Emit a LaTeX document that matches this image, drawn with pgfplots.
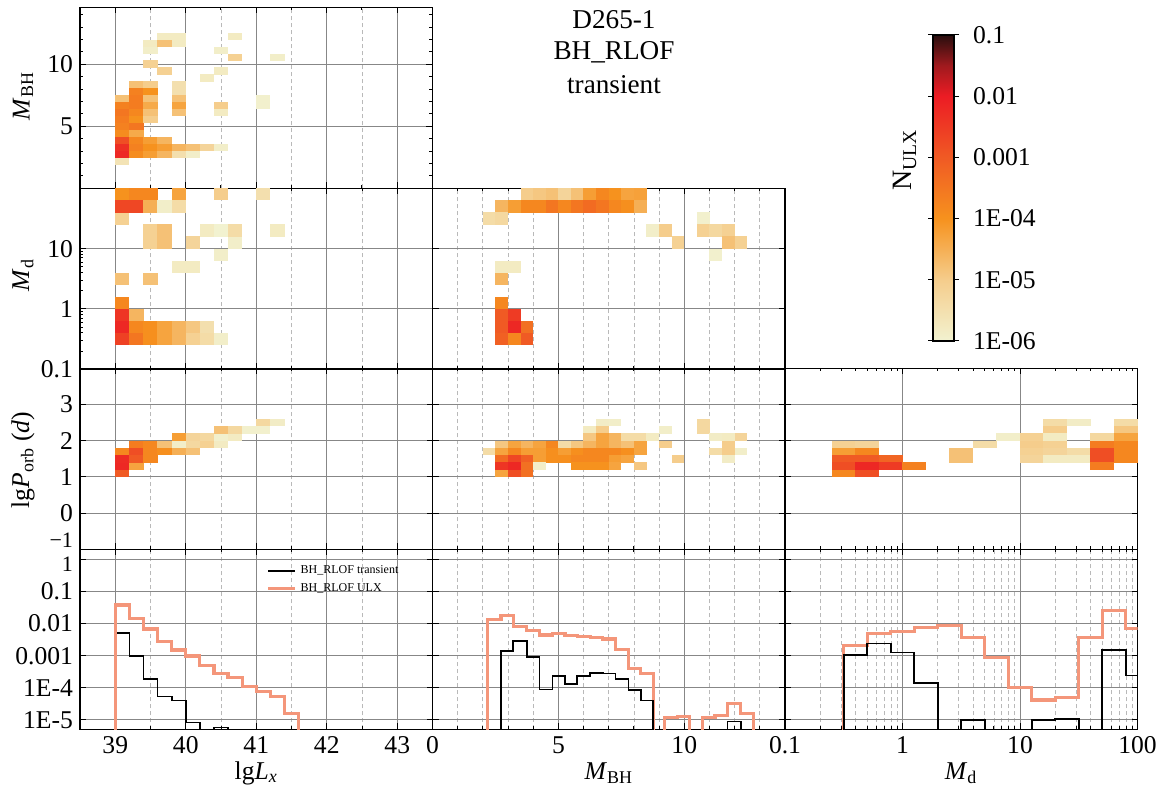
\documentclass[border=0pt]{standalone}
\usepackage{fontspec}
\setmainfont{Liberation Serif}
\usepackage{pgfplots}
\pgfplotsset{compat=1.18}

\definecolor{ulxline}{RGB}{244,150,122}
\definecolor{gridmajor}{RGB}{135,135,135}
\definecolor{gridminor}{RGB}{185,185,185}

\newcommand{\lblfont}{\fontsize{12.8}{14}\selectfont}
\newcommand{\edgelbl}{\fontsize{11}{12}\selectfont}

% filled cells of the 2D histograms (half width, half height of one bin)
\pgfdeclareplotmark{cellLB}{\pgfpathrectanglecorners{\pgfpoint{-3.58pt}{-1.79pt}}{\pgfpoint{3.58pt}{1.79pt}}\pgfusepathqfill}
\pgfdeclareplotmark{cellLD}{\pgfpathrectanglecorners{\pgfpoint{-3.58pt}{-3.07pt}}{\pgfpoint{3.58pt}{3.07pt}}\pgfusepathqfill}
\pgfdeclareplotmark{cellBD}{\pgfpathrectanglecorners{\pgfpoint{-3.2pt}{-3.07pt}}{\pgfpoint{3.2pt}{3.07pt}}\pgfusepathqfill}
\pgfdeclareplotmark{cellLP}{\pgfpathrectanglecorners{\pgfpoint{-3.58pt}{-1.86pt}}{\pgfpoint{3.58pt}{1.86pt}}\pgfusepathqfill}
\pgfdeclareplotmark{cellBP}{\pgfpathrectanglecorners{\pgfpoint{-3.2pt}{-1.86pt}}{\pgfpoint{3.2pt}{1.86pt}}\pgfusepathqfill}
\pgfdeclareplotmark{cellDP}{\pgfpathrectanglecorners{\pgfpoint{-5.93pt}{-1.86pt}}{\pgfpoint{5.93pt}{1.86pt}}\pgfusepathqfill}

\pgfplotsset{
  colormap={ulx}{rgb255(0cm)=(242,242,208) rgb255(1cm)=(245,205,140) rgb255(2cm)=(246,146,30)
    rgb255(3cm)=(240,90,36) rgb255(4cm)=(236,28,36) rgb255(4.5cm)=(160,26,30) rgb255(5cm)=(40,14,14)},
  panel/.style={
    scale only axis, width=176.25pt, height=90.5pt, anchor=south west,
    colormap name=ulx, point meta min=-6, point meta max=-1,
    axis line style={line width=0.6pt},
    tick align=inside, tick pos=both,
    major tick length=3pt, minor tick length=1.6pt,
    tick style={black, line width=0.5pt},
    major grid style={gridmajor, line width=0.5pt},
    minor grid style={gridminor, line width=0.4pt, dash pattern=on 2pt off 1.5pt},
    xmajorgrids, ymajorgrids,
    tick label style={font=\lblfont},
    /pgf/number format/assume math mode=true,
  },
  heatcells/.style={scatter, only marks, mark=#1, point meta=explicit,
    scatter/use mapped color={draw=mapped color, fill=mapped color}},
  histT/.style={const plot mark left, no marks, black, line width=0.85pt},
  histU/.style={const plot mark left, no marks, ulxline, line width=1.6pt},
}

\begin{document}
\begin{tikzpicture}
\useasboundingbox (0,0) rectangle (580pt,395pt);

% ---------- row 1: M_BH vs lg Lx ----------
\begin{axis}[panel, at={(40pt,300.85pt)},
  xmin=38.5, xmax=43.5, xtick={39,40,41,42,43}, minor xtick={38.5,39.5,40.5,41.5,42.5,43.5}, xminorgrids,
  ymin=0, ymax=14.6, ytick={5,10}, minor ytick={1,2,3,4,6,7,8,9,11,12,13,14},
  xticklabels={}]
\addplot[heatcells=cellLB] table[meta=c, row sep=\\]{x y c\\
39.1 2.18 -5.6\\ 39.1 2.74 -2.2\\ 39.1 3.30 -2.3\\ 39.1 3.86 -2.8\\ 39.1 4.42 -3.9\\
39.1 4.98 -3.7\\ 39.1 5.54 -3.6\\ 39.1 6.10 -3.5\\ 39.1 6.66 -3.7\\ 39.1 7.22 -4.8\\
39.3 2.74 -3.9\\ 39.3 3.30 -3.7\\ 39.3 3.86 -3.8\\ 39.3 4.42 -4.4\\ 39.3 4.98 -3.5\\
39.3 5.54 -4.0\\ 39.3 6.10 -3.8\\ 39.3 6.66 -3.6\\ 39.3 7.22 -3.6\\ 39.3 7.78 -3.7\\ 39.3 8.34 -4.8\\
39.5 2.74 -4.2\\ 39.5 3.30 -4.0\\ 39.5 3.86 -4.2\\ 39.5 5.54 -5.0\\ 39.5 6.10 -4.8\\ 39.5 6.66 -4.4\\
39.5 7.22 -4.8\\ 39.5 7.78 -4.0\\ 39.5 8.34 -5.0\\ 39.5 10.02 -5.1\\ 39.5 11.14 -5.9\\ 39.5 11.70 -5.8\\
39.7 2.74 -4.6\\ 39.7 3.30 -4.2\\ 39.7 3.86 -4.6\\ 39.7 9.46 -5.1\\ 39.7 11.70 -4.8\\ 39.7 12.26 -5.8\\
39.9 2.74 -5.5\\ 39.9 3.30 -4.6\\ 39.9 6.10 -4.8\\ 39.9 6.66 -4.3\\ 39.9 7.22 -4.8\\ 39.9 7.78 -5.5\\
39.9 8.34 -5.5\\ 39.9 11.70 -5.8\\ 39.9 12.26 -5.8\\
40.1 2.74 -5.9\\ 40.1 3.30 -4.8\\
40.3 3.30 -5.2\\ 40.3 8.90 -5.8\\
40.5 3.30 -5.9\\ 40.5 6.10 -5.8\\ 40.5 6.66 -5.0\\ 40.5 9.46 -5.8\\ 40.5 11.14 -5.9\\
40.7 10.58 -5.1\\ 40.7 12.26 -5.8\\
41.1 6.66 -5.95\\ 41.1 7.22 -5.95\\
41.3 10.58 -5.9\\
};
\end{axis}

% ---------- row 2: Md ----------
\begin{axis}[panel, at={(40pt,210.35pt)}, ymode=log, ytick pos=left,
  xmin=38.5, xmax=43.5, xtick={39,40,41,42,43}, minor xtick={38.5,39.5,40.5,41.5,42.5,43.5}, xminorgrids,
  ymin=0.1, ymax=100, ytick={0.1,1,10},
  xticklabels={}, yticklabels={0.1,1,10}]
\addplot[heatcells=cellLD] table[meta=c, row sep=\\]{x y c\\
39.1 0.3162 -2.6\\ 39.1 0.5012 -2.2\\ 39.1 0.7943 -2.4\\ 39.1 1.259 -3.8\\ 39.1 3.162 -4.8\\
39.1 31.62 -5.1\\ 39.1 50.12 -2.7\\ 39.1 79.43 -4.0\\
39.3 0.3162 -3.5\\ 39.3 0.5012 -3.8\\ 39.3 0.7943 -4.6\\ 39.3 50.12 -2.7\\ 39.3 79.43 -3.8\\
39.5 0.3162 -3.95\\ 39.5 0.5012 -3.95\\ 39.5 3.162 -4.8\\ 39.5 12.59 -5.1\\ 39.5 19.95 -5.1\\
39.5 50.12 -4.5\\ 39.5 79.43 -3.8\\
39.7 0.3162 -4.3\\ 39.7 0.5012 -4.3\\ 39.7 12.59 -4.8\\ 39.7 19.95 -4.8\\ 39.7 50.12 -5.9\\
39.9 0.3162 -4.6\\ 39.9 0.5012 -4.6\\ 39.9 5.012 -5.8\\ 39.9 50.12 -5.4\\ 39.9 79.43 -4.3\\
40.1 0.3162 -5.1\\ 40.1 0.5012 -4.9\\ 40.1 5.012 -5.8\\ 40.1 12.59 -5.2\\
40.3 0.3162 -5.4\\ 40.3 0.5012 -5.5\\ 40.3 19.95 -5.8\\
40.5 0.3162 -5.9\\ 40.5 7.943 -5.9\\ 40.5 19.95 -6.0\\ 40.5 79.43 -5.0\\
40.7 12.59 -5.9\\ 40.7 19.95 -5.4\\
41.1 79.43 -5.5\\
41.3 19.95 -5.8\\
};
\end{axis}

\begin{axis}[panel, at={(216.25pt,210.35pt)}, ymode=log, yminorticks=false,
  xmin=0, xmax=14, xtick={0,5,10}, minor xtick={1,2,3,4,6,7,8,9,11,12,13}, xminorgrids,
  ymin=0.1, ymax=100, ytick={0.1,1,10},
  xticklabels={}, yticklabels={}]
\addplot[heatcells=cellBD] table[meta=c, row sep=\\]{x y c\\
3.75 79.43 -5.0\\ 4.25 79.43 -4.9\\ 4.75 79.43 -4.8\\ 5.25 79.43 -5.2\\ 5.75 79.43 -4.8\\
6.25 79.43 -4.2\\ 6.75 79.43 -3.8\\ 7.25 79.43 -4.0\\ 7.75 79.43 -4.3\\ 8.25 79.43 -4.25\\
2.75 50.12 -4.6\\ 3.25 50.12 -4.2\\ 3.75 50.12 -3.8\\ 4.25 50.12 -3.8\\ 4.75 50.12 -3.5\\
5.25 50.12 -3.8\\ 5.75 50.12 -3.5\\ 6.25 50.12 -3.3\\ 6.75 50.12 -3.5\\ 7.25 50.12 -3.8\\
7.75 50.12 -3.95\\ 8.25 50.12 -4.5\\
2.25 31.62 -5.4\\ 2.75 31.62 -5.3\\ 10.75 31.62 -5.95\\
8.75 19.95 -5.9\\ 9.25 19.95 -5.0\\ 10.75 19.95 -5.1\\ 11.25 19.95 -5.3\\ 11.75 19.95 -5.1\\
9.75 12.59 -5.1\\ 11.75 12.59 -4.8\\ 12.25 12.59 -5.1\\
11.25 7.943 -5.95\\
2.75 5.012 -5.8\\ 3.25 5.012 -5.8\\
2.75 3.162 -4.6\\
2.75 1.259 -3.8\\
2.75 0.7943 -3.0\\ 3.25 0.7943 -2.5\\
2.75 0.5012 -3.0\\ 3.25 0.5012 -2.2\\ 3.75 0.5012 -3.4\\
2.75 0.3162 -3.1\\ 3.25 0.3162 -3.8\\ 3.75 0.3162 -3.0\\
};
\end{axis}

% ---------- row 3: lg P_orb ----------
\begin{axis}[panel, at={(40pt,120.35pt)},
  xmin=38.5, xmax=43.5, xtick={39,40,41,42,43}, minor xtick={38.5,39.5,40.5,41.5,42.5,43.5}, xminorgrids,
  ymin=-1, ymax=4, ytick={-1,0,1,2,3},
  xticklabels={}, yticklabels={\raisebox{4.5pt}[\height][\depth]{\edgelbl −1},0,1,2,3}]
\addplot[heatcells=cellLP] table[meta=c, row sep=\\]{x y c\\
39.1 1.1 -3.0\\ 39.1 1.3 -2.2\\ 39.1 1.5 -2.25\\ 39.1 1.7 -3.8\\
39.3 1.3 -4.3\\ 39.3 1.5 -3.0\\ 39.3 1.7 -2.8\\ 39.3 1.9 -3.6\\
39.5 1.5 -3.8\\ 39.5 1.7 -3.8\\ 39.5 1.9 -3.8\\
39.7 1.7 -3.95\\ 39.7 1.9 -4.8\\
39.9 1.7 -4.5\\ 39.9 1.9 -5.9\\ 39.9 2.1 -4.2\\
40.1 1.7 -4.8\\ 40.1 1.9 -5.3\\ 40.1 2.1 -5.2\\
40.3 1.9 -5.1\\ 40.3 2.1 -5.3\\
40.5 1.9 -5.8\\ 40.5 2.1 -5.95\\ 40.5 2.3 -4.8\\
40.7 2.1 -5.8\\ 40.7 2.3 -5.3\\
40.9 2.3 -5.95\\
41.1 2.3 -5.95\\ 41.1 2.5 -5.3\\
41.3 2.5 -5.85\\
};
\end{axis}

\begin{axis}[panel, at={(216.25pt,120.35pt)},
  xmin=0, xmax=14, xtick={0,5,10}, minor xtick={1,2,3,4,6,7,8,9,11,12,13}, xminorgrids,
  ymin=-1, ymax=4, ytick={-1,0,1,2,3},
  xticklabels={}, yticklabels={}]
\addplot[heatcells=cellBP] table[meta=c, row sep=\\]{x y c\\
2.25 1.7 -5.4\\
2.75 1.9 -4.9\\ 2.75 1.7 -4.3\\ 2.75 1.5 -3.3\\ 2.75 1.3 -2.4\\ 2.75 1.1 -4.3\\
3.25 1.9 -4.3\\ 3.25 1.7 -3.8\\ 3.25 1.5 -2.7\\ 3.25 1.3 -2.2\\ 3.25 1.1 -2.8\\
3.75 1.9 -4.6\\ 3.75 1.7 -4.2\\ 3.75 1.5 -3.1\\ 3.75 1.3 -3.4\\ 3.75 1.1 -3.4\\
4.25 1.9 -4.3\\ 4.25 1.7 -4.2\\ 4.25 1.5 -4.2\\ 4.25 1.3 -5.9\\
4.75 1.9 -3.8\\ 4.75 1.7 -3.95\\ 4.75 1.5 -3.95\\
5.25 1.9 -5.4\\ 5.25 1.7 -4.2\\ 5.25 1.5 -3.95\\
5.75 1.9 -4.9\\ 5.75 1.7 -3.95\\ 5.75 1.5 -3.8\\ 5.75 1.3 -4.0\\
6.25 2.3 -5.8\\ 6.25 2.1 -4.9\\ 6.25 1.9 -4.6\\ 6.25 1.7 -3.8\\ 6.25 1.5 -3.8\\ 6.25 1.3 -4.0\\
6.75 2.5 -5.85\\ 6.75 2.3 -5.0\\ 6.75 2.1 -4.3\\ 6.75 1.9 -4.3\\ 6.75 1.7 -3.8\\ 6.75 1.5 -3.8\\ 6.75 1.3 -4.0\\
7.25 2.5 -5.9\\ 7.25 2.1 -4.6\\ 7.25 1.9 -4.6\\ 7.25 1.7 -3.8\\ 7.25 1.5 -4.2\\ 7.25 1.3 -4.3\\
7.75 2.1 -5.4\\ 7.75 1.9 -4.8\\ 7.75 1.7 -3.95\\ 7.75 1.5 -4.3\\
8.25 2.1 -5.4\\ 8.25 1.9 -4.3\\ 8.25 1.7 -4.3\\ 8.25 1.3 -4.9\\
8.75 2.1 -5.8\\
9.25 2.3 -5.9\\ 9.25 1.9 -5.0\\
9.75 1.5 -5.0\\
10.75 2.3 -5.3\\ 10.75 2.5 -5.3\\
11.25 2.1 -5.85\\ 11.25 1.7 -5.4\\
11.75 2.1 -5.8\\ 11.75 1.9 -5.0\\ 11.75 1.7 -5.0\\ 11.75 1.5 -5.85\\
12.25 2.1 -5.2\\ 12.25 1.7 -5.9\\
};
\end{axis}

\begin{axis}[panel, at={(392.5pt,120.35pt)}, xmode=log,
  xmin=0.1, xmax=100, xtick={0.1,1,10,100},
  ymin=-1, ymax=4, ytick={-1,0,1,2,3},
  xticklabels={}, yticklabels={}]
\addplot[heatcells=cellDP] table[meta=c, row sep=\\]{x y c\\
0.3162 1.9 -5.1\\ 0.3162 1.7 -4.2\\ 0.3162 1.5 -3.0\\ 0.3162 1.3 -2.8\\ 0.3162 1.1 -3.8\\
0.5012 1.9 -5.2\\ 0.5012 1.7 -3.8\\ 0.5012 1.5 -3.0\\ 0.5012 1.3 -2.2\\ 0.5012 1.1 -2.8\\
0.7943 1.5 -3.2\\ 0.7943 1.3 -2.5\\
1.259 1.3 -3.7\\
3.162 1.7 -4.8\\ 3.162 1.5 -4.8\\
5.012 1.9 -5.4\\
7.943 2.1 -5.9\\
12.59 2.1 -5.1\\ 12.59 1.9 -5.0\\ 12.59 1.7 -5.1\\ 12.59 1.5 -5.2\\
19.95 2.5 -5.4\\ 19.95 2.3 -5.0\\ 19.95 2.1 -5.8\\ 19.95 1.9 -5.1\\ 19.95 1.7 -5.2\\ 19.95 1.5 -5.8\\
31.62 2.5 -5.85\\ 31.62 1.7 -5.4\\ 31.62 1.5 -5.8\\
50.12 2.1 -5.3\\ 50.12 1.9 -3.6\\ 50.12 1.7 -2.8\\ 50.12 1.5 -2.8\\ 50.12 1.3 -3.6\\
79.43 2.5 -5.4\\ 79.43 2.3 -4.9\\ 79.43 2.1 -4.3\\ 79.43 1.9 -3.8\\ 79.43 1.7 -3.8\\ 79.43 1.5 -3.8\\
};
\end{axis}

% ---------- row 4: 1D distributions ----------
\begin{axis}[panel, at={(40pt,30.25pt)}, ymode=log, height=90.1pt,
  xmin=38.5, xmax=43.5, xtick={39,40,41,42,43}, minor xtick={38.5,39.5,40.5,41.5,42.5,43.5}, xminorgrids,
  ymin=5.06e-6, ymax=2.05, ytick={1,0.1,0.01,0.001,1e-4,1e-5},
  yticklabels={\raisebox{-2.6pt}[\height][\depth]{\edgelbl 1},0.1,0.01,0.001,1E-4,1E-5},
  legend style={at={(0.528,0.935)}, anchor=north west, draw=none, fill=none,
    font=\fontsize{6}{6.5}\selectfont, inner sep=0pt, row sep=-0.6pt},
  legend cell align=left,
  legend image code/.code={\draw[#1] (0pt,0pt) -- (13.5pt,0pt);}]
\addplot[histT] coordinates {(39.0,1e-9) (39.0,0.005) (39.2,0.001) (39.4,1.9e-4) (39.6,5.4e-5)
  (39.8,4.0e-5) (40.0,8.3e-6) (40.2,1e-9) (40.4,5.9e-6) (40.6,1e-9)};
\addlegendentry{BH\_RLOF transient}
\addplot[histU] coordinates {(39.0,1e-9) (39.0,0.038) (39.2,0.0145) (39.4,0.0068) (39.6,0.0027)
  (39.8,0.0015) (40.0,0.00098) (40.2,0.00049) (40.4,0.00028) (40.6,0.00021) (40.8,1.1e-4)
  (41.0,7.6e-5) (41.2,5.4e-5) (41.4,1.6e-5) (41.6,1e-9)};
\addlegendentry{BH\_RLOF ULX}
\end{axis}

\begin{axis}[panel, at={(216.25pt,30.25pt)}, ymode=log, height=90.1pt,
  xmin=0, xmax=14, xtick={0,5,10}, minor xtick={1,2,3,4,6,7,8,9,11,12,13}, xminorgrids,
  ymin=5.06e-6, ymax=2.05, ytick={1,0.1,0.01,0.001,1e-4,1e-5},
  yticklabels={}]
\addplot[histU] coordinates {(2.20,1e-9) (2.20,0.0135) (2.72,0.0177) (3.21,0.008) (3.74,0.006)
  (4.25,0.0044) (4.76,0.0048) (5.26,0.0042) (5.75,0.004) (6.26,0.0037) (6.76,0.0033)
  (7.27,0.0016) (7.78,0.00041) (8.27,0.00028) (8.77,1e-9) (9.21,1.2e-5) (9.72,1.3e-5)
  (10.22,1e-9) (10.73,1.2e-5) (11.22,1.4e-5) (11.71,3.2e-5) (12.24,1.6e-5) (12.74,1e-9)};
\addplot[histT] coordinates {(2.72,1e-9) (2.72,0.0014) (3.21,0.0029) (3.74,0.00089) (4.25,8.9e-5)
  (4.76,2.3e-4) (5.26,1.3e-4) (5.75,2.3e-4) (6.26,2.95e-4) (6.76,2.8e-4) (7.27,1.9e-4)
  (7.78,8.5e-5) (8.27,4.0e-5) (8.77,1e-9) (11.71,8.9e-6) (12.24,1e-9)};
\end{axis}

\begin{axis}[panel, at={(392.5pt,30.25pt)}, xmode=log, ymode=log, height=90.1pt,
  xmin=0.1, xmax=100, xtick={0.1,1,10,100}, xminorgrids,
  ymin=5.06e-6, ymax=2.05, ytick={1,0.1,0.01,0.001,1e-4,1e-5},
  yticklabels={}, xticklabels={0.1,1,10,100}]
\addplot[histU] coordinates {(0.3162,1e-9) (0.3162,0.0021) (0.5012,0.005) (0.7943,0.0056)
  (1.259,0.0075) (1.995,0.0089) (3.162,0.0037) (5.012,0.00089) (7.943,1.04e-4) (12.59,4.2e-5)
  (19.95,5e-5) (31.62,0.0037) (50.12,0.026) (79.43,0.0071) (125.9,0.0071)};
\addplot[histT] coordinates {(0.3162,1e-9) (0.3162,0.00105) (0.5012,0.0024) (0.7943,0.00125)
  (1.259,1.4e-4) (1.995,1e-9) (3.162,1.0e-5) (5.012,1e-9) (12.59,1.0e-5) (19.95,1.1e-5)
  (31.62,1e-9) (50.12,0.0015) (79.43,2.4e-4) (125.9,2.4e-4)};
\end{axis}

% ---------- colour scale ----------
\begin{axis}[at={(458pt,224.5pt)}, anchor=south west, scale only axis, width=10.5pt, height=153pt,
  hide axis, xmin=0, xmax=1, ymin=0, ymax=1,
  colormap name=ulx, point meta min=-6, point meta max=-1,
  colorbar,
  colorbar style={at={(parent axis.south west)}, anchor=south west,
    scale only axis, width=10.5pt, height=153pt,
    ytick={-6,-5,-4,-3,-2,-1}, yticklabels={1E-06,1E-05,1E-04,0.001,0.01,0.1},
    yticklabel style={font=\lblfont, xshift=3.5pt},
    axis line style={line width=0.8pt},
    tick align=outside, major tick length=2.5pt,
    ytick style={black, line width=0.5pt}}]
\addplot[draw=none] coordinates {(0.5,0.5)};
\end{axis}

% ---------- titles and axis labels ----------
\node[font=\fontsize{13.6}{15}\selectfont] at (307pt,385pt) {D265-1};
\node[font=\fontsize{13.6}{15}\selectfont] at (307pt,369pt) {BH\_RLOF};
\node[font=\fontsize{13.6}{15}\selectfont] at (307pt,352.5pt) {transient};
\node[rotate=90, font=\fontsize{14}{15}\selectfont] at (452.5pt,315pt) {N\textsubscript{ULX}};

\node[rotate=90, font=\lblfont] at (11.5pt,347pt) {\textit{M}\textsubscript{BH}};
\node[rotate=90, font=\lblfont] at (11.5pt,257.5pt) {\textit{M}\textsubscript{d}};
\node[rotate=90, font=\lblfont] at (11.5pt,165pt) {lg\textit{P}\textsubscript{orb} (\textit{d})};

\node[font=\lblfont] at (128.1pt,8.5pt) {lg\textit{L}\textsubscript{\textit{x}}};
\node[font=\lblfont] at (304.4pt,8.5pt) {\textit{M}\textsubscript{BH}};
\node[font=\lblfont] at (480.6pt,8.5pt) {\textit{M}\textsubscript{d}};
\end{tikzpicture}
\end{document}
